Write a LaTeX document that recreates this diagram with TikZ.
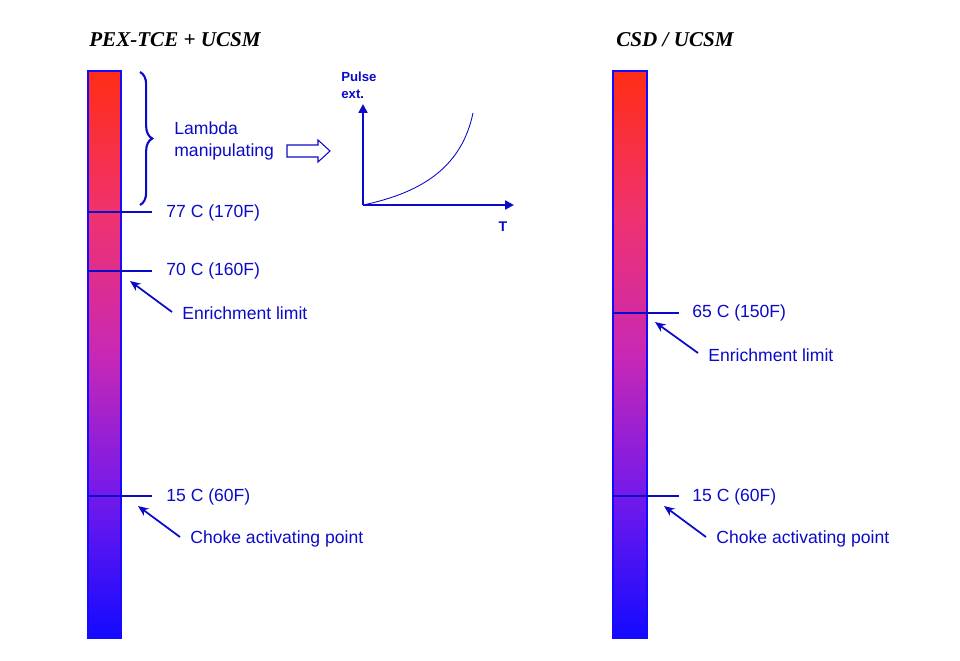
\documentclass[tikz,border=0pt]{standalone}
\usepackage{fontspec}
\setmainfont{Liberation Sans}
\newfontfamily\titlefont{Liberation Serif}
\usetikzlibrary{positioning}
\usetikzlibrary{arrows.meta}
\usetikzlibrary{decorations.pathreplacing}

\definecolor{lblue}{RGB}{10,10,200}
\definecolor{barred}{RGB}{255,45,20}
\definecolor{barpink}{RGB}{240,50,110}
\definecolor{barmid}{RGB}{200,40,180}
\definecolor{barviolet}{RGB}{115,25,235}
\definecolor{barblue}{RGB}{20,10,255}

\pgfdeclareverticalshading{tempgrad}{100bp}{color(0bp)=(barblue); color(25bp)=(barblue); color(37.5bp)=(barviolet); color(50bp)=(barmid); color(62.5bp)=(barpink); color(75bp)=(barred); color(100bp)=(barred)}

\tikzset{
	label/.style={text=lblue,font=\fontsize{10}{12.5}\selectfont,anchor=west,inner sep=0pt},
	title/.style={font=\titlefont\bfseries\itshape\fontsize{12}{14}\selectfont},
	tempbar/.style={draw=barblue,line width=1pt,shading=tempgrad},
	tick/.style={lblue,line width=0.8pt},
	pointer/.style={lblue,line width=1pt,-{Stealth[length=6pt,width=5pt]}},
	axis/.style={lblue,line width=1.3pt,-{Triangle[length=5pt,width=5pt]}}
}

\begin{document}
\begin{tikzpicture}[x=0.02cm,y=-0.02cm]
				
				\useasboundingbox (0,0) rectangle (960,660);
				
				% left bar
				\node[title] (T1) at (175,40) {PEX-TCE + UCSM};
				\path[tempbar] (88,71) rectangle (121,638);
				
				\draw[tick] (88,212) -- (152,212);
				\node[label] (L77) at (166,213) {77 C (170F)};
				\draw[tick] (88,271) -- (152,271);
				\node[label] (L70) at (166,271) {70 C (160F)};
				\draw[tick] (88,496) -- (152,496);
				\node[label] (L15) at (166,497) {15 C (60F)};
				
				\node[label] (E1) at (182,313) {Enrichment limit};
				\coordinate (E1a) at (172,312);
				\coordinate (E1b) at (130,281);
				\draw[pointer] (E1a) -- (E1b);
				
				\node[label] (C1) at (190,539) {Choke activating point};
				\coordinate (C1a) at (180,537);
				\coordinate (C1b) at (138,506);
				\draw[pointer] (C1a) -- (C1b);
				
				% lambda part
				\coordinate (B1) at (140,72);
				\coordinate (B2) at (140,205);
				\draw[lblue,line width=1.2pt,decorate,decoration={brace,amplitude=7pt}] (B1) -- (B2);
				\node[label,align=left] (lam) at (174,141) {Lambda\\manipulating};
				\draw[lblue,line width=0.6pt] (287,145) -- (318,145) -- (318,140) -- (330,151) -- (318,162) -- (318,157) -- (287,157) -- cycle;
				
				% graph
				\coordinate (O) at (363,205);
				\coordinate (Ytop) at (363,104);
				\coordinate (Xend) at (514,205);
				\draw[axis] (O) -- (Ytop);
				\draw[axis] (O) -- (Xend);
				\draw[lblue,line width=0.5pt] (O) .. controls (425,192) and (462,165) .. (473,113);
				\node[text=lblue,font=\bfseries\fontsize{7.5}{9.5}\selectfont,align=left,anchor=west,inner sep=0pt] (P) at (341,85) {Pulse\\ext.};
				\node[text=lblue,font=\bfseries\fontsize{8}{10}\selectfont,inner sep=0pt] (T) at (503,227) {T};
				
				% right bar
				\node[title] (T2) at (675,40) {CSD / UCSM};
				\path[tempbar] (613,71) rectangle (647,638);
				
				\draw[tick] (613,313) -- (679,313);
				\node[label] (R65) at (692,313) {65 C (150F)};
				\draw[tick] (613,496) -- (679,496);
				\node[label] (R15) at (692,497) {15 C (60F)};
				
				\node[label] (E2) at (708,355) {Enrichment limit};
				\coordinate (E2a) at (698,353);
				\coordinate (E2b) at (655,322);
				\draw[pointer] (E2a) -- (E2b);
				
				\node[label] (C2) at (716,539) {Choke activating point};
				\coordinate (C2a) at (706,537);
				\coordinate (C2b) at (664,506);
				\draw[pointer] (C2a) -- (C2b);
				
			\end{tikzpicture}
\end{document}
